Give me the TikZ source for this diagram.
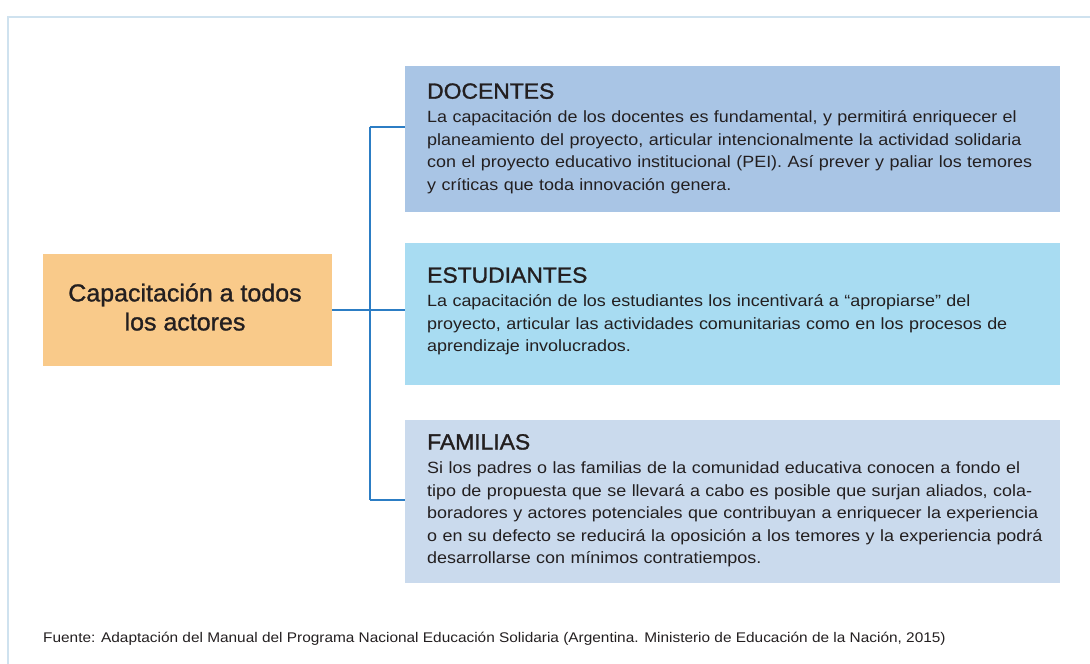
\documentclass[tikz,border=0pt]{standalone}
\usepackage{fontspec}
\setmainfont{Liberation Sans}
\newfontfamily\bodyf[FakeStretch=1.10]{Liberation Sans}
\newfontfamily\srcf[FakeStretch=1.10]{Liberation Sans}
\newfontfamily\headf[FakeBold=1.3,FakeStretch=1.04]{Liberation Sans}
\newfontfamily\capf[FakeBold=1.1,FakeStretch=1.02]{Liberation Sans}
\definecolor{framec}{HTML}{CFE2EF}
\definecolor{capc}{HTML}{F9CA8A}
\definecolor{docc}{HTML}{A9C5E5}
\definecolor{estc}{HTML}{A8DCF2}
\definecolor{famc}{HTML}{CADAED}
\definecolor{linec}{HTML}{2C7DC4}
\definecolor{txtc}{HTML}{231F20}
\tikzset{
  box/.style={draw=none, inner sep=0pt, anchor=north west},
  conn/.style={draw=linec, line width=2pt},
  head/.style={anchor=base west, inner sep=0pt, text=txtc, font={\headf\fontsize{22}{26}\selectfont}},
  body/.style={anchor=base west, inner sep=0pt, text=txtc, text width=640pt, align=left, font={\bodyf\fontsize{16.3}{22.5}\selectfont}},
}
\begin{document}
\begin{tikzpicture}[x=1pt,y=-1pt]
\useasboundingbox (0,0) rectangle (1090,664);
\clip (0,0) rectangle (1090,664);
\draw[framec, line width=2pt] (8,17) rectangle (1110,690);

\node[box, fill=capc, minimum width=289pt, minimum height=112pt] (cap) at (43,254) {};
\node[anchor=center, inner sep=0pt, text=txtc, align=center, font={\capf\fontsize{24.5}{29}\selectfont}] (captxt) at (185,307) {Capacitación a todos\\los actores};

\node[box, fill=docc, minimum width=655pt, minimum height=146pt] (doc) at (405,66) {};
\node[box, fill=estc, minimum width=655pt, minimum height=142pt] (est) at (405,243) {};
\node[box, fill=famc, minimum width=655pt, minimum height=163pt] (fam) at (405,420) {};

\node[head] (doch) at (427,98.7) {DOCENTES};
\node[body] (docb) at (427,122.7) {La capacitación de los docentes es fundamental, y permitirá enriquecer el\\
planeamiento del proyecto, articular intencionalmente la actividad solidaria\\
con el proyecto educativo institucional (PEI). Así prever y paliar los temores\\
y críticas que toda innovación genera.};

\node[head] (esth) at (427,282.7) {ESTUDIANTES};
\node[body] (estb) at (427,306.7) {La capacitación de los estudiantes los incentivará a “apropiarse” del\\
proyecto, articular las actividades comunitarias como en los procesos de\\
aprendizaje involucrados.};

\node[head] (famh) at (427,449.5) {FAMILIAS};
\node[body] (famb) at (427,473.5) {Si los padres o las familias de la comunidad educativa conocen a fondo el\\
tipo de propuesta que se llevará a cabo es posible que surjan aliados, cola-\\
boradores y actores potenciales que contribuyan a enriquecer la experiencia\\
o en su defecto se reducirá la oposición a los temores y la experiencia podrá\\
desarrollarse con mínimos contratiempos.};

\coordinate (jt) at (369.5,127);
\coordinate (jb) at (369.5,500);
\draw[conn] (jt) -- (jb);
\draw[conn] (jt) -- (doc.west |- jt);
\draw[conn] (cap.east) -- (est.west |- cap.east);
\draw[conn] (jb) -- (fam.west |- jb);

\node[anchor=base west, inner sep=0pt, text=txtc, font={\srcf\fontsize{14}{16}\selectfont}] (src) at (43,642) {Fuente: Adaptación del Manual del Programa Nacional Educación Solidaria (Argentina. Ministerio de Educación de la Nación, 2015)};
\end{tikzpicture}
\end{document}
